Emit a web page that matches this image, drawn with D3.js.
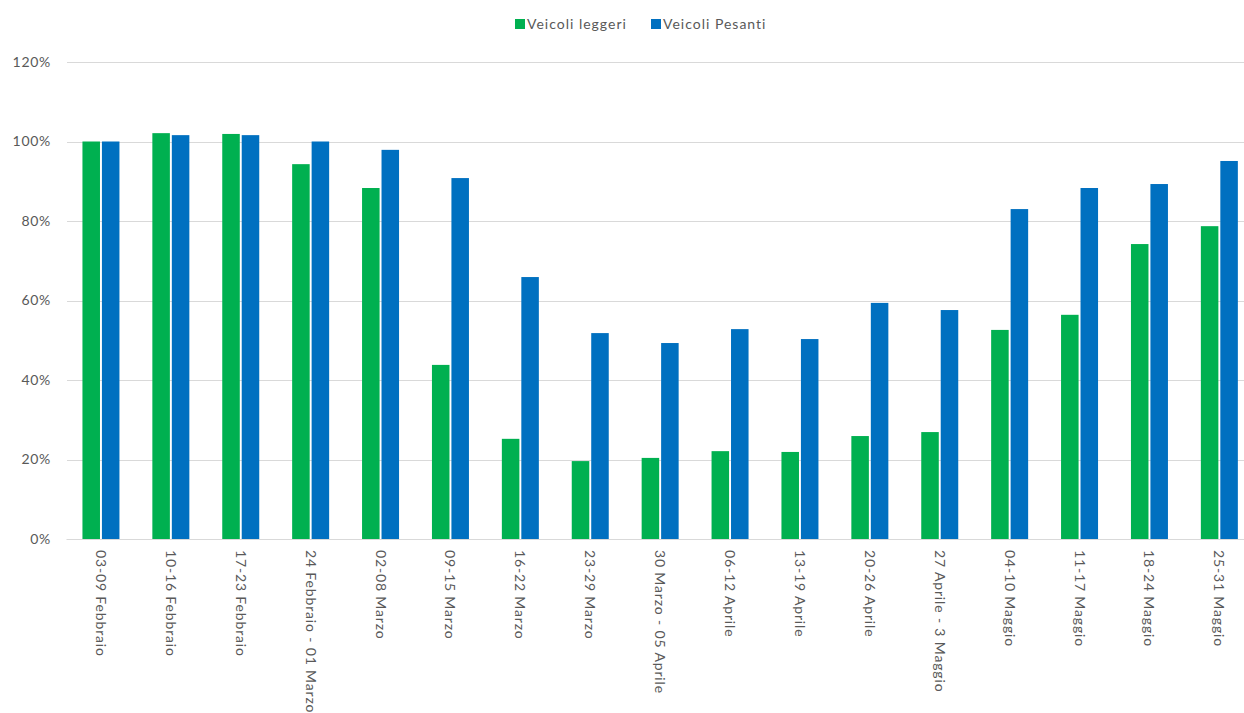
<!DOCTYPE html>
<html>
<head>
<meta charset="utf-8">
<script src="https://cdn.jsdelivr.net/npm/d3@7"></script>
<style>
  html, body { margin: 0; padding: 0; background: #fff; }
  svg { display: block; }
  text { font-family: Lato, "Open Sans", sans-serif; fill: #595959; }
</style>
</head>
<body>
<svg id="chart" width="1244" height="713"></svg>
<script>
// Settimane
const categories = [
  "03-09 Febbraio", "10-16 Febbraio", "17-23 Febbraio", "24 Febbraio - 01 Marzo",
  "02-08 Marzo", "09-15 Marzo", "16-22 Marzo", "23-29 Marzo",
  "30 Marzo - 05 Aprile", "06-12 Aprile", "13-19 Aprile", "20-26 Aprile",
  "27 Aprile - 3 Maggio", "04-10 Maggio", "11-17 Maggio", "18-24 Maggio", "25-31 Maggio"
];

// Traffico rispetto alla settimana di riferimento (valori percentuali)
const veicoliLeggeri = [100, 102.1, 101.9, 94.3, 88.3, 43.8, 25.2, 19.6, 20.4, 22.1, 21.9, 25.9, 26.9, 52.6, 56.4, 74.2, 78.7];
const veicoliPesanti = [100, 101.6, 101.6, 100, 97.9, 90.8, 65.9, 51.8, 49.3, 52.8, 50.3, 59.4, 57.6, 83.0, 88.3, 89.3, 95.1];

const seriesNames = ["Veicoli leggeri", "Veicoli Pesanti"];
const seriesColors = ["#00B050", "#0070C0"];
const yTicks = [0, 20, 40, 60, 80, 100, 120];

const svg = d3.select("#chart");
const margin = { left: 66, top: 62, bottom: 174 };
const plotBottom = 713 - margin.bottom;   // 0%
const step = 69.9;

const x = d3.scaleBand()
  .domain(categories)
  .range([margin.left, margin.left + step * categories.length])
  .paddingInner(0).paddingOuter(0);

const x1 = d3.scaleBand()
  .domain(seriesNames)
  .range([0, 37])
  .paddingInner(0.1);

const y = d3.scaleLinear().domain([0, 120]).range([plotBottom, margin.top]);

// Griglia orizzontale
svg.append("g")
  .selectAll("line")
  .data(yTicks)
  .join("line")
  .attr("x1", 67)
  .attr("x2", 1244)
  .attr("y1", d => Math.round(y(d)) + 0.5)
  .attr("y2", d => Math.round(y(d)) + 0.5)
  .attr("stroke", "#d9d9d9")
  .attr("stroke-width", 1.2);

// Etichette asse Y
const yAxis = d3.axisLeft(y).tickValues(yTicks).tickFormat(d => d + "%").tickSize(0).tickPadding(0);
const gy = svg.append("g").attr("transform", `translate(${51},0)`).call(yAxis);
gy.select(".domain").remove();
gy.selectAll("text")
  .attr("font-size", 14)
  .attr("letter-spacing", 0.7)
  .attr("font-family", "Lato, 'Open Sans', sans-serif")
  .attr("fill", "#595959");

// Barre
const groups = svg.append("g")
  .selectAll("g")
  .data(categories)
  .join("g")
  .attr("transform", d => `translate(${x(d) + (x.bandwidth() - 37) / 2},0)`);

groups.selectAll("rect")
  .data((d, i) => [
    { s: seriesNames[0], v: veicoliLeggeri[i], c: seriesColors[0] },
    { s: seriesNames[1], v: veicoliPesanti[i], c: seriesColors[1] }
  ])
  .join("rect")
  .attr("x", d => x1(d.s))
  .attr("width", x1.bandwidth())
  .attr("y", d => y(d.v))
  .attr("height", d => y(0) - y(d.v))
  .attr("fill", d => d.c);

// Asse X
const xAxis = d3.axisBottom(x).tickSize(0).tickPadding(0);
const gx = svg.append("g").attr("transform", `translate(0,${plotBottom})`).call(xAxis);
gx.select(".domain").attr("stroke", "#d9d9d9").attr("stroke-width", 1.2);
gx.selectAll("text")
  .attr("font-size", 14)
  .attr("letter-spacing", 0.85)
  .attr("font-family", "Lato, 'Open Sans', sans-serif")
  .attr("fill", "#595959")
  .attr("text-anchor", "start")
  .attr("dy", null)
  .attr("y", 0)
  .attr("transform", "translate(-5,11) rotate(90)");

// Legenda
const legend = svg.append("g").attr("transform", "translate(515,18)");
const items = [{ name: seriesNames[0], c: seriesColors[0], dx: 0 }, { name: seriesNames[1], c: seriesColors[1], dx: 136 }];
const li = legend.selectAll("g").data(items).join("g").attr("transform", d => `translate(${d.dx},0)`);
li.append("rect").attr("width", 10).attr("height", 10).attr("y", 1).attr("fill", d => d.c);
li.append("text").attr("x", 12).attr("y", 11).attr("font-size", 14).attr("letter-spacing", 1).text(d => d.name);
</script>
</body>
</html>
